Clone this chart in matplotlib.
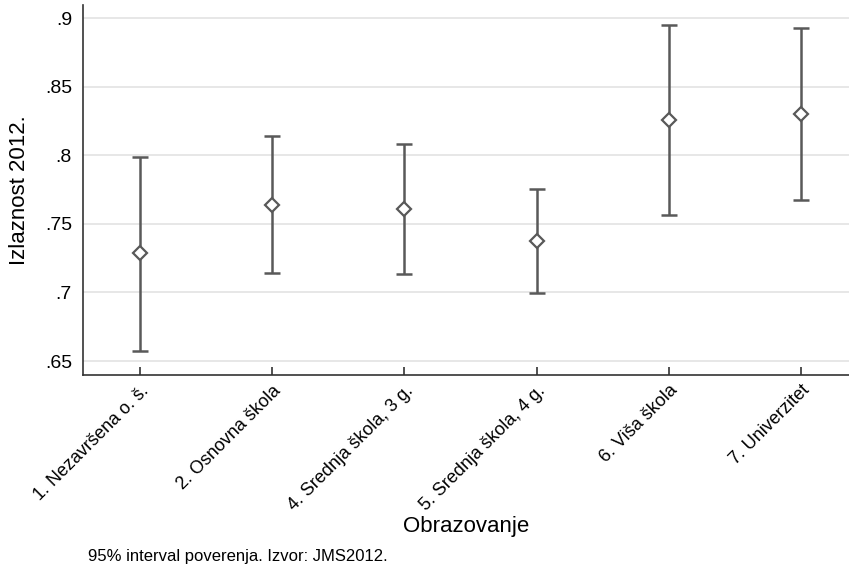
import matplotlib
matplotlib.use("Agg")
import matplotlib.pyplot as plt
import numpy as np

categories = ["1. Nezavršena o. š.", "2. Osnovna škola", "4. Srednja škola, 3 g.",
              "5. Srednja škola, 4 g.", "6. Viša škola", "7. Univerzitet"]
means = [0.7285, 0.7637, 0.7608, 0.7375, 0.8257, 0.8300]
lower = [0.6575, 0.7140, 0.7137, 0.6996, 0.7564, 0.7670]
upper = [0.7987, 0.8140, 0.8080, 0.7754, 0.8950, 0.8930]
yticks = [0.65, 0.7, 0.75, 0.8, 0.85, 0.9]
yticklabels = [".65", ".7", ".75", ".8", ".85", ".9"]

plt.rcParams['font.family'] = ['Liberation Sans', 'DejaVu Sans']

fig = plt.figure(figsize=(8.49, 5.70), dpi=100)
ax = fig.add_axes([83/849, 1-375/570, 1-83/849, 370/570])

x = np.arange(1, len(categories) + 1)
m = np.array(means)
err = np.vstack([m - np.array(lower), np.array(upper) - m])
col = '#595959'
ax.errorbar(x, m, yerr=err, fmt='none', ecolor=col, elinewidth=1.8,
            capsize=5.5, capthick=1.8, zorder=3)
ax.plot(x, m, linestyle='none', marker='D', markersize=7, markerfacecolor='white',
        markeredgecolor=col, markeredgewidth=1.6, zorder=4)

ax.set_xlim(0.57, 6.36)
ax.set_ylim(0.6398, 0.9095)
ax.set_yticks(yticks)
ax.set_yticklabels(yticklabels, fontsize=14)
ax.set_xticks(x)
ax.set_xticklabels(categories, rotation=45, ha='right', va='top',
                   rotation_mode='anchor', fontsize=13)
ax.yaxis.grid(True, color='#e3e3e3', linewidth=1.2)
ax.set_axisbelow(True)
ax.tick_params(axis='y', length=0, pad=8)
ax.tick_params(axis='x', direction='in', length=6, width=1.2, color='#333333', pad=5)
for s in ['top', 'right']:
    ax.spines[s].set_visible(False)
for s in ['left', 'bottom']:
    ax.spines[s].set_color('#333333')
    ax.spines[s].set_linewidth(1.2)

ax.set_ylabel("Izlaznost 2012.", fontsize=16)
ax.set_xlabel("Obrazovanje", fontsize=16)
ax.xaxis.set_label_coords(0.5, (375-516)/370)
ax.yaxis.set_label_coords(-53/766, 0.5)
fig.text(88/849, 1-557/570, "95% interval poverenja. Izvor: JMS2012.", fontsize=12,
         va='center', ha='left')

fig.savefig("out.png", dpi=100, facecolor='white')
